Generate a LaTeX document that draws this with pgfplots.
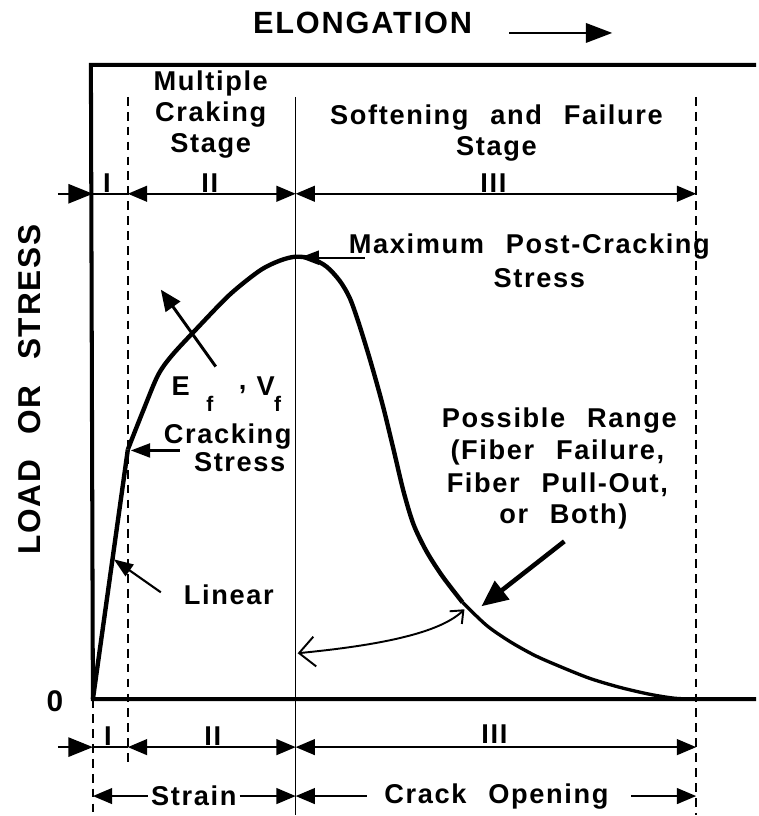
\documentclass[border=0pt]{standalone}
\usepackage{fontspec}
\setmainfont{Liberation Sans}
\newfontfamily\lab[LetterSpace=6]{Liberation Sans}
\usepackage{pgfplots}
\pgfplotsset{compat=1.18}
\usetikzlibrary{arrows.meta}

\newcommand{\fs}{\fontsize{15.5}{17.6}\selectfont\lab\bfseries}
\newcommand{\gap}{\hspace{0.8em}}

\begin{document}
\begin{tikzpicture}[
  hd/.style={-{Triangle[length=11pt,width=9pt]}},
  hh/.style={{Triangle[length=11pt,width=9pt]}-{Triangle[length=11pt,width=9pt]}},
  hl/.style={{Triangle[length=11pt,width=9pt]}-},
  dsh/.style={line width=1.1pt, dash pattern=on 5pt off 3.5pt}]
\begin{axis}[x=0.02cm, y=0.02cm, y dir=reverse,
  xmin=0, xmax=757, ymin=0, ymax=816,
  hide axis, clip=false]
\path (0,0) rectangle (757,816);

% frame: top, left and bottom lines
\addplot[black, line width=2.3pt] coordinates {(757,65) (91,65) (93,700) (757,700)};

% stress-elongation curve
\addplot[black, line width=2.5pt] coordinates {(93,700) (128,450)};
\addplot[black, line width=2.5pt, smooth, tension=0.5] coordinates {
  (128,450) (143,412) (158,376) (172,356) (197,329) (230,295) (260,271)
  (280,261) (296,257) (312,259) (327,267) (340,281) (350,298) (359,323)
  (371,362) (383,405) (394,450) (404,492) (414,525) (427,552) (443,577)
  (463,603)};
\addplot[black, line width=1.9pt, smooth, tension=0.5] coordinates {
  (463,603) (487,626) (510,642) (535,656) (560,667) (590,679) (620,688)
  (650,695) (675,699) (698,700) (720,700)};

% stage boundaries
\draw[dsh] (128,97) -- (128,763);
\draw[dsh] (697,97) -- (697,816);
\draw[dsh] (93,700) -- (93,816);
\draw[line width=0.8pt] (296,97) -- (296,816);

% stage arrows, top
\draw[line width=1.1pt, -{Triangle[length=14pt,width=11pt]}] (58,194) -- (93,194);
\draw[line width=1.1pt] (93,194) -- (128,194);
\draw[line width=1.1pt, hh] (128,194) -- (296,194);
\draw[line width=1.1pt, hh] (296,194) -- (697,194);
% stage arrows, bottom
\draw[line width=1.1pt, -{Triangle[length=14pt,width=11pt]}] (58,748) -- (93,748);
\draw[line width=1.1pt] (93,748) -- (128,748);
\draw[line width=1.1pt, hh] (128,748) -- (296,748);
\draw[line width=1.1pt, hh] (296,748) -- (697,748);
\draw[line width=1.1pt, hl] (93,797) -- (148,797);
\draw[line width=1.1pt, hd] (240,797) -- (296,797);
\draw[line width=1.1pt, hl] (296,797) -- (367,797);
\draw[line width=1.1pt, hd] (632,797) -- (697,797);

% annotation arrows
\draw[line width=1.2pt, -{Triangle[length=11pt,width=8pt]}] (365,258) -- (300,258);
\draw[line width=1.2pt, -{Triangle[length=11pt,width=8pt]}] (180,451) -- (131,451);
\draw[line width=1.2pt, -{Triangle[length=11pt,width=8pt]}] (161,593) -- (114,560);
\draw[line width=1.7pt, -{Triangle[length=12pt,width=10pt]}] (216,367) -- (161,290);
\draw[line width=2.6pt, -{Triangle[length=15pt,width=13pt]}] (565,542) -- (482,607);
\draw[line width=1.1pt, {Straight Barb[length=9pt,width=17pt]}-{Straight Barb[length=6pt,width=10pt]}]
  (298,654) .. controls (380,646) and (440,634) .. (465,610);

% text
\node[font=\fontsize{17.5}{20}\selectfont\lab\bfseries] at (363,23) {ELONGATION};
\draw[line width=1.4pt, -{Triangle[length=15pt,width=11pt]}] (510,33) -- (613,33);
\node[font=\fontsize{18}{20}\selectfont\lab\bfseries, rotate=90] at (30,390) {LOAD\gap OR\gap STRESS};
\node[font=\fontsize{17}{20}\selectfont\bfseries] at (55,702) {0};

\node[font=\fs, align=center] at (211,115) {Multiple\\Craking\\Stage};
\node[font=\fs, align=center] at (497,133) {Softening\gap and\gap Failure\\Stage};
\node[font=\fs] at (107,183) {I};
\node[font=\fs] at (210,183) {II};
\node[font=\fs] at (494,183) {III};
\node[font=\fs] at (108,737) {I};
\node[font=\fs] at (213,737) {II};
\node[font=\fs] at (495,735) {III};
\node[font=\fs] at (194,797) {Strain};
\node[font=\fs] at (497,797) {Crack\gap Opening};

\node[font=\fs] at (530,247) {Maximum\gap Post-Cracking};
\node[font=\fs] at (540,278) {Stress};
\node[font=\fs] at (181,387) {E};
\node[font=\fontsize{12}{13}\selectfont\lab\bfseries] at (210,404) {f};
\node[font=\fs] at (243,390) {,};
\node[font=\fs] at (266,387) {V};
\node[font=\fontsize{12}{13}\selectfont\lab\bfseries] at (278,404) {f};
\node[font=\fs] at (228,437) {Cracking};
\node[font=\fs] at (240,463) {Stress};
\node[font=\fs] at (229,595) {Linear};
\node[font=\fs] at (560,421) {Possible\gap Range};
\node[font=\fs] at (558,453) {(Fiber\gap Failure,};
\node[font=\fs] at (558,485) {Fiber\gap Pull-Out,};
\node[font=\fs] at (564,517) {or\gap Both)};
\end{axis}
\end{tikzpicture}
\end{document}
